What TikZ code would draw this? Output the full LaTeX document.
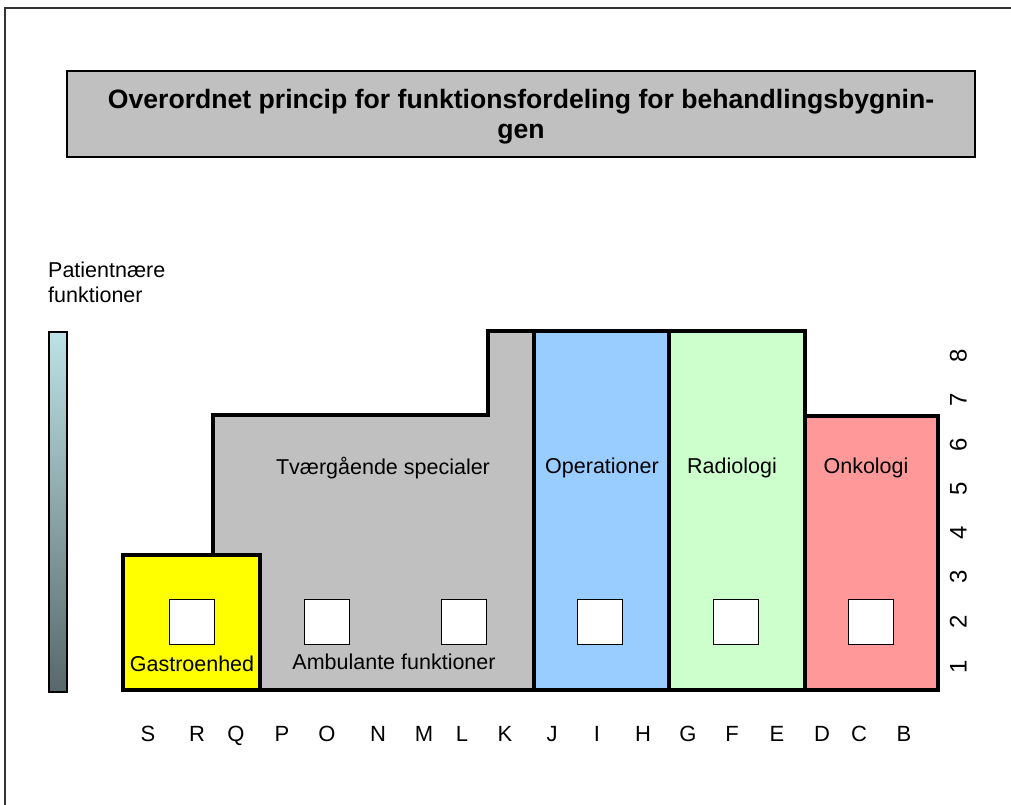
\documentclass[tikz,border=0pt]{standalone}
\usepackage{fontspec}
\setmainfont{Liberation Sans}
\begin{document}
\begin{tikzpicture}[x=1pt,y=-1pt,
  wall/.style={draw=black,line width=4.5pt},
  lbl/.style={font=\fontsize{21.5}{25}\selectfont,inner sep=0pt},
  axis/.style={font=\fontsize{22}{26}\selectfont,inner sep=0pt,anchor=center,text height=16pt,text depth=0pt},
  floornum/.style={font=\fontsize{24}{28}\selectfont,inner sep=0pt,anchor=center,text height=17pt,text depth=0pt,rotate=90},
  room/.style={draw=black,fill=white,line width=1.6pt,minimum width=45pt,minimum height=45pt,inner sep=0pt}]
\definecolor{greyfill}{RGB}{192,192,192}
\definecolor{opblue}{RGB}{153,204,255}
\definecolor{radgreen}{RGB}{204,255,204}
\definecolor{onkred}{RGB}{255,153,153}
\definecolor{gastroyellow}{RGB}{255,255,0}
\definecolor{bartop}{RGB}{188,226,230}
\definecolor{barbot}{RGB}{88,104,106}
\useasboundingbox (0,0) rectangle (1011,805);
% outer frame
\draw[line width=1.8pt,draw=black!80] (5,810) -- (5,8) -- (1015,8);
% title
\node[draw=black,line width=2pt,fill=greyfill,minimum width=908pt,minimum height=86pt,inner sep=0pt] (title) at (521,114) {};
\node[font=\bfseries\fontsize{26.6}{30}\selectfont,align=center,inner sep=0pt] (titletext) at (521,117) {Overordnet princip for funktionsfordeling for behandlingsbygnin-\\gen};
% patient label and gradient bar
\node[lbl,align=left,anchor=north west] (pat) at (48,262) {Patientnære\\funktioner};
\shade[top color=bartop,bottom color=barbot] (49,332) rectangle (67,692);
\draw[line width=2pt] (49,332) rectangle (67,692);
\node[inner sep=0pt,minimum width=18pt,minimum height=360pt] (bar) at (58,512) {};
% regions
\fill[greyfill] (213,555) -- (213,415) -- (488,415) -- (488,331) -- (534,331) -- (534,690) -- (260,690) -- (260,555) -- cycle;
\fill[opblue] (534,331) rectangle (669,690);
\fill[radgreen] (669,331) rectangle (805,690);
\fill[onkred] (805,416) rectangle (938,690);
\fill[gastroyellow] (123,555) rectangle (260,690);
\draw[wall] (213,555) -- (213,415) -- (488,415) -- (488,331) -- (534,331) -- (534,690) -- (260,690) -- (260,555) -- cycle;
\draw[wall] (534,331) rectangle (669,690);
\draw[wall] (669,331) rectangle (805,690);
\draw[wall] (805,416) rectangle (938,690);
\draw[wall] (123,555) rectangle (260,690);
% rooms
\node[room] (r1) at (192,622) {};
\node[room] (r2) at (327,622) {};
\node[room] (r3) at (464,622) {};
\node[room] (r4) at (600,622) {};
\node[room] (r5) at (736,622) {};
\node[room] (r6) at (871,622) {};
% labels
\node[lbl] (tvg) at (383,468) {Tværgående specialer};
\node[lbl] (opr) at (602,468) {Operationer};
\node[lbl] (rad) at (732,468) {Radiologi};
\node[lbl] (onk) at (866,468) {Onkologi};
\node[lbl] (gas) at (192,664) {Gastroenhed};
\node[lbl] (amb) at (394,662) {Ambulante funktioner};
% floor numbers
\foreach \n/\y in {8/356,7/400,6/445,5/489,4/533,3/577,2/622,1/667}
  \node[floornum] (fl\n) at (958,\y) {\n};
% column letters
\foreach \l/\x in {S/148,R/197,Q/236,P/282,O/327,N/378,M/424,L/462,K/505,J/552,I/597,H/643,G/688,F/732,E/777,D/822,C/859,B/904}
  \node[axis] (col\l) at (\x,733) {\l};
\end{tikzpicture}
\end{document}
